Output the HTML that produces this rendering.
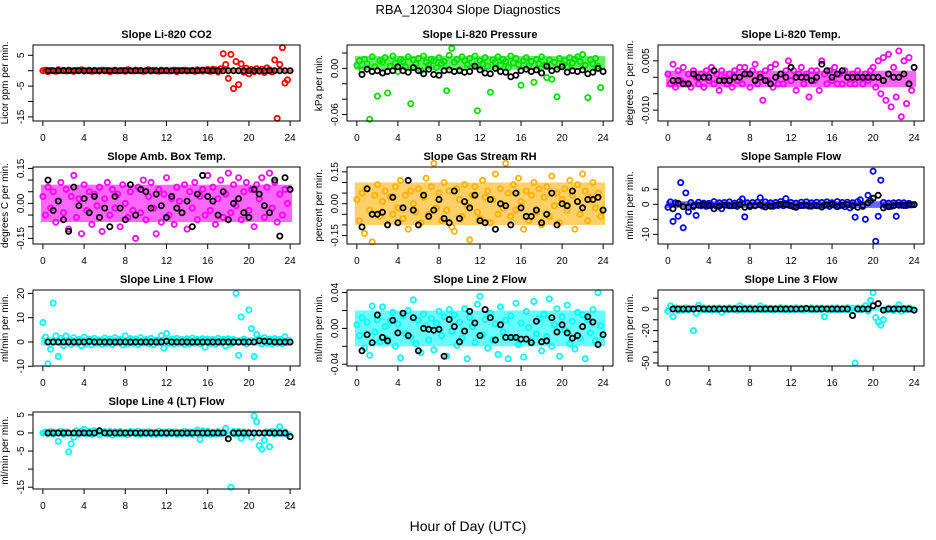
<!DOCTYPE html>
<html><head><meta charset="utf-8"><style>
body{margin:0;background:#fff}
svg{display:block;font-family:"Liberation Sans",sans-serif}
</style></head><body>
<svg id="c" width="936" height="540" viewBox="0 0 936 540">
<text x="468" y="14" text-anchor="middle" font-size="13">RBA_120304  Slope Diagnostics</text>
<text x="468" y="531" text-anchor="middle" font-size="14">Hour of Day (UTC)</text>
</svg>
<script>
const xTicks=[0,4,8,12,16,20,24];
const co2Col=[0,0.2,-0.3,0.1,0,-0.2,0.3,0,0.1,-0.1,0.2,0,-0.2,0.1,0,0.3,-0.1,0,0.2,-0.2,0.1,0,-0.1,0.2,0,0.1,-0.3,0,0.2,-0.1,0,0.1,-0.2,0.3,0,-0.1,0.2,0,0.1,-0.2,0,0.3,-0.1,0.1,0,-0.2,0.2,0,0.1,-0.1,0,0.2,-0.3,0.1,0,0.2,-0.1,0,0.1,-0.2,0.3,0,-0.1,0.2,0.4,-0.2,0.5,0.3,-0.4,0.6,5.5,2.0,-2.5,5.3,-5.8,3.0,-4.5,2.2,-0.5,0.8,-1.0,0.4,-0.3,0.6,-0.2,0.5,-0.6,0.9,0.3,-0.4,3.5,-15.5,2.0,7.5,-4.0,-3.0];
const co2Blk=[0,0,0,0,0,0,0,0,0,0,0,0,0,0,0,0,0,0,0,0,0,0,0,0,0,0,0,0,0,0,0.2,0,0,0,0,0,0,0,0,0,0,0,0,0,0,0,0,0];
const presCol=[0.004,0.010,-0.002,0.012,0.006,-0.066,0.015,0.002,-0.036,0.010,0.008,0.014,-0.032,0.003,0.016,0.007,-0.004,0.012,0.009,0.002,0.015,-0.046,0.011,0.006,0.013,-0.003,0.016,0.008,0.004,0.012,0.010,0.001,0.014,0.006,0.009,-0.029,0.017,0.026,0.008,0.012,-0.002,0.015,0.010,0.005,0.013,0.002,0.016,-0.055,0.010,0.006,0.014,0.003,-0.031,0.011,0.008,0.015,0.004,0.012,0.009,0.001,0.016,0.007,0.013,0.005,-0.022,0.010,0.014,0.003,0.009,-0.018,0.012,0.006,0.015,0.004,-0.012,0.011,-0.014,0.008,-0.037,0.013,0.005,0.010,0.002,0.014,0.007,0.012,0.015,0.009,0.018,0.004,-0.038,0.011,0.006,0.013,0.003,-0.025];
const presBlk=[-0.008,-0.001,-0.004,-0.003,-0.006,-0.004,-0.003,0.002,-0.003,-0.005,0.001,-0.003,-0.007,-0.001,-0.008,-0.009,-0.003,-0.002,-0.004,-0.003,-0.005,-0.004,0.003,-0.002,-0.006,-0.007,0.000,-0.004,-0.005,-0.011,-0.009,-0.003,-0.001,-0.004,-0.002,-0.006,0.003,-0.003,-0.001,0.002,-0.005,-0.003,-0.004,-0.002,-0.007,-0.005,0.000,-0.004];
const tempCol=[0.001,-0.002,0.004,-0.003,0.002,-0.001,0.003,-0.002,0.001,-0.003,0.002,0.000,-0.002,0.001,-0.003,0.002,-0.001,0.003,-0.002,0.001,-0.004,0.002,0.000,-0.002,0.001,-0.003,0.002,-0.001,0.003,-0.002,0.003,0.001,-0.003,0.002,0.004,-0.002,0.001,-0.007,0.002,-0.001,0.003,-0.003,0.004,-0.002,0.001,-0.002,0.002,0.005,-0.001,0.002,-0.004,0.001,0.003,-0.002,0.001,-0.006,0.002,-0.001,0.002,-0.004,0.005,0.001,-0.002,0.002,-0.001,0.003,-0.002,0.001,-0.002,0.002,0.000,-0.002,0.001,-0.002,0.002,0.000,-0.002,0.001,-0.001,0.002,0.003,-0.003,0.005,-0.005,0.006,-0.007,0.007,-0.009,0.003,-0.006,0.008,-0.012,0.005,-0.008,0.006,-0.004];
const tempBlk=[-0.001,-0.001,-0.002,-0.002,0.001,0.000,0.000,0.000,0.002,-0.001,-0.001,-0.001,0.000,0.000,0.001,0.001,-0.001,0.000,-0.001,-0.002,0.000,0.001,0.000,0.003,0.000,0.000,0.000,-0.001,0.000,0.004,0.002,0.000,0.001,0.002,0.000,0.000,0.000,0.000,0.000,0.000,0.000,-0.001,0.001,0.000,0.000,0.001,-0.002,0.003];
const ambCol=[0.03,-0.05,0.07,-0.02,0.05,-0.08,0.01,0.09,-0.04,0.06,-0.11,0.03,0.12,-0.06,0.02,-0.13,0.08,-0.03,0.05,-0.09,0.04,-0.01,0.07,-0.12,0.02,0.09,-0.05,0.06,-0.02,0.04,-0.10,0.08,0.00,-0.06,0.05,-0.03,-0.15,0.07,-0.04,0.10,-0.07,0.03,0.09,-0.02,-0.13,0.06,-0.08,0.04,0.11,-0.05,0.02,-0.09,0.07,0.01,-0.04,0.08,-0.11,0.05,-0.02,0.09,-0.07,0.03,0.06,-0.05,0.12,-0.03,0.07,-0.09,0.02,0.10,-0.06,0.04,0.13,-0.04,0.08,-0.01,0.11,-0.07,0.05,0.09,-0.03,0.06,-0.10,0.08,0.02,0.11,-0.06,0.07,0.13,-0.02,0.09,-0.08,0.04,-0.05,0.06,0.00];
const ambBlk=[0.10,-0.03,0.01,-0.07,-0.12,0.07,-0.01,0.02,-0.04,0.03,-0.06,-0.02,-0.10,0.03,-0.02,-0.07,0.08,-0.05,0.06,0.05,-0.02,0.04,-0.01,-0.06,0.03,-0.02,-0.04,0.01,-0.10,0.04,0.12,0.03,0.01,-0.05,0.05,-0.07,0.00,0.02,-0.04,-0.06,0.06,0.04,-0.01,-0.04,0.10,-0.14,0.11,0.06];
const rhCol=[0.02,-0.08,0.05,-0.14,0.07,-0.03,-0.18,0.04,0.09,-0.06,0.01,0.06,-0.10,0.03,-0.05,0.08,-0.02,0.11,-0.07,0.04,-0.12,0.06,0.00,-0.04,0.07,-0.09,0.03,0.12,-0.05,0.08,0.19,-0.02,0.05,-0.08,0.10,-0.03,0.06,-0.11,-0.13,0.07,0.02,-0.06,0.09,-0.01,-0.17,0.04,0.08,-0.04,-0.07,0.11,0.03,0.06,-0.09,0.02,0.14,-0.05,0.07,-0.02,0.19,0.05,-0.06,0.09,-0.03,0.12,0.01,-0.12,0.06,-0.08,0.04,0.10,-0.04,0.07,-0.10,0.03,0.08,-0.06,0.13,-0.01,0.05,-0.09,0.02,0.07,-0.03,0.11,0.04,-0.12,0.09,-0.05,0.14,0.06,-0.08,0.03,0.10,-0.02,0.05,-0.06];
const rhBlk=[-0.11,0.07,-0.05,-0.05,-0.04,-0.10,0.03,-0.09,-0.02,0.11,-0.03,-0.10,0.04,-0.06,-0.03,0.02,-0.07,-0.09,0.06,-0.07,0.01,-0.02,0.04,-0.08,-0.09,0.02,-0.12,0.00,-0.01,-0.10,0.05,-0.02,-0.06,-0.06,-0.03,-0.09,-0.05,0.05,-0.10,0.00,-0.01,0.06,0.01,-0.02,0.02,0.02,0.03,-0.03];
const sfCol=[-1.0,0.8,-5.7,0.5,-4.0,7.2,-7.8,3.8,-2.5,0.6,-0.8,-3.7,0.7,-0.5,0.4,-0.7,0.3,-0.4,0.9,-0.6,0.5,-1.5,0.6,-0.3,0.8,-0.5,0.4,-0.7,0.9,1.8,-4.2,0.5,-0.8,0.6,-0.4,0.7,2.2,-0.6,0.8,-0.3,0.5,-0.7,0.6,-0.4,0.9,-0.5,1.9,-0.3,0.6,-0.8,0.4,-0.5,0.7,-0.4,0.8,-0.6,0.5,-0.3,0.7,-0.5,0.6,-0.4,0.8,-0.7,0.5,-0.3,0.9,-0.5,0.6,-0.8,0.7,-1.2,0.5,-4.3,0.9,1.5,-0.7,-5.0,3.0,1.2,11.0,-12.3,-4.0,8.0,0.6,-0.5,0.4,-0.7,0.5,-4.0,0.6,-0.3,0.5,-0.4,0.3,-0.2];
const sfBlk=[-1.5,0.3,-0.8,-1.0,-0.5,-0.3,-0.2,-0.4,-1.5,-0.6,-0.3,-0.5,-0.4,-0.1,-1.0,-0.4,-0.5,-0.2,-0.9,-0.6,-0.3,0.0,-0.1,-0.5,-1.0,-0.4,-0.3,-0.6,-0.5,-0.9,-0.2,0.0,-0.8,-0.3,-0.1,-0.5,-1.0,-0.4,0.5,2.0,3.0,-1.2,-0.8,-0.5,-0.3,-0.4,-0.2,-0.1];
const l1Col=[8.0,2.0,-9.0,-3.0,16.0,2.5,-6.0,1.5,-1.5,2.5,0.8,-1.0,1.8,-0.5,1.0,-1.5,2.0,-0.8,1.2,-1.2,1.5,-0.5,0.8,-1.0,1.6,-0.6,1.2,-1.0,1.8,-0.4,1.0,-1.2,2.5,-0.8,1.4,-0.6,1.2,-1.0,1.8,-0.5,1.0,-0.7,1.5,-1.1,0.8,-0.4,2.6,-2.5,3.5,-0.6,1.2,-0.8,1.5,-0.5,1.0,-1.0,1.3,-0.7,1.6,-0.5,1.0,-0.8,1.4,-2.2,1.2,-0.6,1.0,-0.9,1.5,-0.4,1.1,-1.6,1.3,-0.7,1.0,20.0,-5.5,10.3,1.2,-0.8,13.2,5.5,-6.0,3.2,1.5,-0.8,1.8,-0.6,1.2,-0.9,1.4,-0.5,1.0,-0.7,2.2,-0.3];
const l1Blk=[0,0,0,0,0,0,0,0,0.2,0,0,0,0,0,0,0,0,0,0,0,0,0,0,0.3,0,0,0,0,0,0,0,0,0,0,0,0,0,0,0,0,0,0.5,0.3,0.2,0,0,0,0];
const l2Col=[0.004,-0.008,0.012,-0.022,0.007,-0.030,0.025,-0.004,0.010,-0.015,0.024,0.002,-0.012,0.008,0.018,-0.020,0.005,-0.033,0.014,-0.006,0.020,-0.010,0.032,-0.017,0.009,-0.027,0.016,0.003,-0.013,0.011,-0.024,0.006,0.019,-0.008,0.013,-0.031,0.021,-0.003,0.015,-0.019,0.007,-0.011,0.022,-0.034,0.012,0.002,-0.016,0.027,0.036,-0.007,0.010,-0.022,0.017,-0.013,0.005,-0.029,0.024,-0.004,0.009,-0.034,0.014,-0.010,0.028,-0.018,0.006,-0.032,0.019,0.001,-0.014,0.030,-0.006,0.011,-0.025,0.016,-0.009,0.033,-0.020,0.004,0.022,-0.031,0.013,-0.002,0.026,-0.017,0.008,-0.023,0.018,-0.011,0.015,-0.034,0.010,-0.005,0.021,-0.014,0.040,0.003];
const l2Blk=[-0.025,-0.007,-0.016,0.015,-0.010,-0.014,0.009,-0.005,0.017,-0.008,0.012,-0.025,0.000,-0.001,-0.002,-0.001,-0.031,0.010,0.002,-0.015,-0.003,0.019,0.006,-0.008,0.021,0.012,-0.013,0.004,-0.010,-0.010,-0.010,-0.012,-0.012,-0.016,0.008,-0.015,-0.014,0.012,-0.004,0.004,-0.005,-0.011,-0.008,0.002,0.013,0.007,-0.018,-0.007];
const l3Col=[-2.0,3.0,-7.0,1.0,-1.5,0.5,-1.0,1.2,-0.8,0.6,-20.0,-4.0,3.5,-0.5,1.0,-0.8,0.6,-1.2,0.9,-0.6,1.0,-3.0,0.5,-0.8,1.2,-0.4,0.8,-1.0,3.0,-0.6,0.9,-0.5,1.1,-0.8,0.6,-0.4,3.0,-0.7,1.0,-0.5,0.8,-1.1,0.6,-0.3,1.3,-0.6,0.9,-0.8,0.7,-0.5,1.0,-0.4,0.8,-0.9,0.6,-0.5,1.1,-0.7,0.8,-0.4,1.0,-7.0,0.7,-0.6,0.9,-0.5,1.0,-0.8,0.6,-0.4,1.2,-0.7,0.8,-50.0,0.9,-0.6,1.0,3.0,-2.0,8.0,15.0,-8.0,-12.0,-15.0,-10.0,-1.0,0.8,-0.6,-1.5,1.0,4.0,-2.0,0.7,-0.5,0.9,-0.3];
const l3Blk=[0,0,0,0,0,0.5,0,0,0,0,0,0,0,0,0,0,0,0,0,0,0,0,0,0,0,0,0.5,0,0,0,0,0,0,0,0,-6.0,0,0,0,3.0,5.0,-1.0,0,0,0,0,0,-1.0];
const l4Col=[0,0.3,-0.2,0.4,-0.3,0.2,-2.3,0.5,-0.4,0.3,-5.2,-3.0,-1.2,0.6,-0.3,0.4,1.0,-0.2,0.5,-0.4,0.6,0.3,-0.5,0.2,0.4,-0.3,0.5,-0.6,0.3,-0.2,0.4,-0.3,0.2,-0.5,0.4,0.3,-0.2,0.5,-0.4,0.3,-0.2,0.4,-0.3,0.2,-0.4,0.5,-0.2,0.3,-0.3,0.4,-0.2,0.3,-0.4,0.2,-0.3,0.5,-0.2,0.3,-0.4,0.2,0.8,-1.8,0.6,-0.3,0.5,-0.4,0.2,-0.3,0.4,-0.2,0.3,1.3,-0.5,-15.0,0.4,-0.3,0.5,-1.5,0.3,-0.4,0.2,-1.2,4.7,3.1,-3.5,-4.5,-2.0,0.3,-3.8,0.4,-0.3,0.5,1.7,-0.2,0.3,-0.4];
const l4Blk=[0,0,0,0,0,0,0,0,0,0,0.6,0,0,0,0,0,0,0,0,0,0,0,0,0,0,0,0,0,0,0,0,0,0,0,0,-1.6,0,0,0,0,0,0,0,0,0,0,0,-1.0];
// dense-cloud envelopes [low, high] (estimated from where the many overlapping points form a solid band)
const co2Band=[-0.4,0.4];
const presBand=[-0.002,0.016];
const tempBand=[-0.003,0.002];
const ambBand=[-0.08,0.08];
const rhBand=[-0.10,0.10];
const sfBand=[-1.2,1.0];
const l1Band=[-1.5,2.0];
const l2Band=[-0.02,0.02];
const l3Band=[-2,2];
const l4Band=[-0.5,0.5];

const panels=[
 {name:'co2',title:'Slope Li-820 CO2',ylab:'Licor ppm per min.',box:[33,45,300,121],dom:[-16.33,8.34],ticks:[5,0,-5,-10,-15],labs:['5',null,'-5',null,'-15'],col:'#ff0000',c:co2Col,b:co2Blk,band:co2Band},
 {name:'pressure',title:'Slope Li-820 Pressure',ylab:'kPa per min.',box:[347,45,613,121],dom:[-0.0684,0.0304],ticks:[0.02,0,-0.02,-0.04,-0.06],labs:[null,'0.00',null,null,'-0.06'],col:'#00e000',c:presCol,b:presBlk,band:presBand},
 {name:'li820-temp',title:'Slope Li-820 Temp.',ylab:'degrees C per min.',box:[658,45,924,121],dom:[-0.0133,0.00983],ticks:[0.005,0,-0.005,-0.01],labs:['0.005',null,null,'-0.010'],col:'#ff00ff',c:tempCol,b:tempBlk,band:tempBand},
 {name:'amb-box-temp',title:'Slope Amb. Box Temp.',ylab:'degrees C per min.',box:[33,167,300,244],dom:[-0.174,0.156],ticks:[0.15,0.1,0.05,0,-0.05,-0.1,-0.15],labs:['0.15',null,null,'0.00',null,null,'-0.15'],col:'#ff00ff',c:ambCol,b:ambBlk,band:ambBand},
 {name:'gas-stream-rh',title:'Slope Gas Stream RH',ylab:'percent per min.',box:[347,167,613,244],dom:[-0.19,0.173],ticks:[0.15,0.1,0.05,0,-0.05,-0.1,-0.15],labs:['0.15',null,null,'0.00',null,null,'-0.15'],col:'#ffb000',c:rhCol,b:rhBlk,band:rhBand},
 {name:'sample-flow',title:'Slope Sample Flow',ylab:'ml/min per min.',box:[658,167,924,244],dom:[-13.2,12.4],ticks:[5,0,-5,-10],labs:['5','0',null,'-10'],col:'#0000ff',c:sfCol,b:sfBlk,band:sfBand},
 {name:'line1-flow',title:'Slope Line 1 Flow',ylab:'ml/min per min.',box:[33,290,300,366],dom:[-9.9,21.4],ticks:[20,10,0,-10],labs:['20','10','0','-10'],col:'#00ffff',c:l1Col,b:l1Blk,band:l1Band},
 {name:'line2-flow',title:'Slope Line 2 Flow',ylab:'ml/min per min.',box:[347,290,613,366],dom:[-0.042,0.0429],ticks:[0.04,0.02,0,-0.02,-0.04],labs:['0.04',null,'0.00',null,'-0.04'],col:'#00ffff',c:l2Col,b:l2Blk,band:l2Band},
 {name:'line3-flow',title:'Slope Line 3 Flow',ylab:'ml/min per min.',box:[658,290,924,366],dom:[-52.8,17.6],ticks:[10,0,-10,-20,-30,-40,-50],labs:[null,'0',null,'-20',null,null,'-50'],col:'#00ffff',c:l3Col,b:l3Blk,band:l3Band},
 {name:'line4-flow',title:'Slope Line 4 (LT) Flow',ylab:'ml/min per min.',box:[33,412,300,489],dom:[-15.5,5.8],ticks:[5,0,-5,-10,-15],labs:['5','0','-5',null,'-15'],col:'#00ffff',c:l4Col,b:l4Blk,band:l4Band}
];
const NS='http://www.w3.org/2000/svg';
const svg=document.getElementById('c');
function mk(tag,attrs,parent){const e=document.createElementNS(NS,tag);for(const k in attrs)e.setAttribute(k,attrs[k]);parent.appendChild(e);return e;}
panels.forEach(p=>{
 const [L,T,R,B]=p.box;
 const xs=h=>L+(h+0.96)/25.92*(R-L);
 const ys=v=>B-(v-p.dom[0])/(p.dom[1]-p.dom[0])*(B-T);
 const g=mk('g',{},svg);
 
 
 const bd=mk('rect',{x:xs(0)-2,y:ys(p.band[1]),width:xs(24)-xs(0)+4,height:ys(p.band[0])-ys(p.band[1]),fill:p.col,'fill-opacity':0.6},g);
 
 
 const pts=mk('g',{fill:'none','stroke-width':'1.8'},g);
 
 
 p.c.forEach((v,i)=>{
  const c=mk('circle',{cx:xs(i*0.25).toFixed(1),cy:ys(v).toFixed(1),r:2.6,stroke:p.col},pts);
  
  
 });
 p.b.forEach((v,j)=>{
  const c=mk('circle',{cx:xs(0.5+j*0.5).toFixed(1),cy:ys(v).toFixed(1),r:2.6,stroke:'#000'},pts);
  
  
 });
 const box=mk('rect',{x:L,y:T,width:R-L,height:B-T,fill:'none',stroke:'#000','stroke-width':1},g);
 
 
 const t=mk('text',{x:(L+R)/2,y:T-7,'text-anchor':'middle','font-size':11,'font-weight':'bold'},g);
 t.textContent=p.title;
 
 
 const xa=mk('g',{'font-size':10,'text-anchor':'middle'},g);
 
 
 xTicks.forEach(h=>{
  mk('line',{x1:xs(h),x2:xs(h),y1:B,y2:B+5,stroke:'#000'},xa);
  const tx=mk('text',{x:xs(h),y:B+20},xa);tx.textContent=h;
 });
 const ya=mk('g',{'font-size':10,'text-anchor':'middle'},g);
 
 
 p.ticks.forEach((v,k)=>{
  const y=ys(v);
  mk('line',{x1:L-5,x2:L,y1:y,y2:y,stroke:'#000'},ya);
  if(p.labs[k]!==null){const tx=mk('text',{x:L-9,y:y,transform:`rotate(-90 ${L-9} ${y})`},ya);tx.textContent=p.labs[k];}
 });
 const yl=mk('text',{x:L-25,y:(T+B)/2,'font-size':10,'text-anchor':'middle',transform:`rotate(-90 ${L-25} ${(T+B)/2})`},g);
 yl.textContent=p.ylab;
 
 
});
</script>
</body></html>
